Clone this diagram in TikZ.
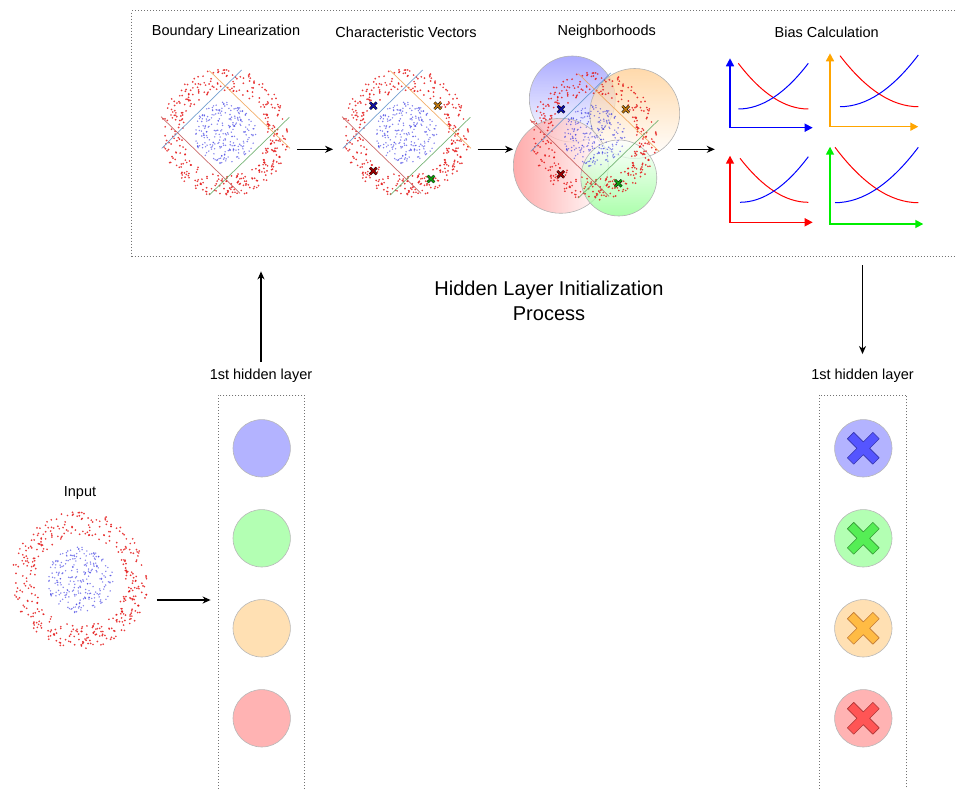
\documentclass[tikz,border=0pt]{standalone}
\usepackage{fontspec}
\setmainfont{Liberation Sans}
\usetikzlibrary{arrows.meta}

\definecolor{ptred}{HTML}{E41A1A}
\definecolor{ptblue}{HTML}{2F2FE0}
\definecolor{lnblue}{HTML}{5B8FC7}
\definecolor{lnorange}{HTML}{F0A050}
\definecolor{lnred}{HTML}{C05050}
\definecolor{lngreen}{HTML}{60A860}
\definecolor{nblue}{HTML}{B3B3FF}
\definecolor{ngreen}{HTML}{B3FFB3}
\definecolor{norange}{HTML}{FFE0B3}
\definecolor{nred}{HTML}{FFB3B3}
\definecolor{xblue}{HTML}{5555FF}
\definecolor{xgreen}{HTML}{55EE55}
\definecolor{xorange}{HTML}{FFBB44}
\definecolor{xred}{HTML}{FF5555}
\definecolor{mkblue}{HTML}{1010A8}
\definecolor{mkorange}{HTML}{C07A10}
\definecolor{mkred}{HTML}{A00000}
\definecolor{mkgreen}{HTML}{10A010}
\definecolor{axgreen}{HTML}{00EE00}
\definecolor{axorange}{HTML}{FFA500}

% two-class point cloud: red ring around a blue disk
\newcommand\dotcloud[2]{%
  \begin{scope}[shift={#1}]
    \pgfmathsetseed{4711}
    \foreach \k in {1,...,400}{%
      \pgfmathsetmacro\ang{360*rnd}%
      \pgfmathsetmacro\rad{#2*(42+22*rnd)}%
      \fill[ptred, opacity=0.85] (\ang:\rad pt) circle (0.95pt);
    }
    \foreach \k in {1,...,250}{%
      \pgfmathsetmacro\ang{360*rnd}%
      \pgfmathsetmacro\rad{#2*31*sqrt(rnd)}%
      \fill[ptblue, opacity=0.6] (\ang:\rad pt) circle (0.8pt);
    }
  \end{scope}}

% the four linear boundaries around a cloud
\newcommand\boundaries[1]{%
  \begin{scope}[shift={#1}, line width=0.7pt, opacity=0.85]
    \draw[lnblue]   (-63.3,15.3) -- (16.7,-63);
    \draw[lnorange] (-15.7,-62.3) -- (65,15.3);
    \draw[lnred]    (-64,-16.3) -- (15,60.3);
    \draw[lngreen]  (-15.7,62) -- (64.3,-15.7);
  \end{scope}}

% small outlined x marker
\newcommand\cvmark[2]{%
  \begin{scope}[shift={#1}]
    \draw[black, line width=2.6pt] (-3.3,-3.3) -- (3.3,3.3) (-3.3,3.3) -- (3.3,-3.3);
    \draw[#2, line width=1.5pt] (-3.3,-3.3) -- (3.3,3.3) (-3.3,3.3) -- (3.3,-3.3);
  \end{scope}}

% large cross placed inside a neuron
\newcommand\bigcross[3]{%
  \begin{scope}[shift={#1}, rotate=45]
    \filldraw[fill=#2, draw=#3, line width=0.6pt, line join=round]
      (4.5,4.5) -- (18,4.5) -- (18,-4.5) -- (4.5,-4.5) -- (4.5,-18) -- (-4.5,-18)
      -- (-4.5,-4.5) -- (-18,-4.5) -- (-18,4.5) -- (-4.5,4.5) -- (-4.5,18) -- (4.5,18) -- cycle;
  \end{scope}}

\begin{document}
\begin{tikzpicture}[x=1pt, y=-1pt,
  lbl/.style={font=\fontsize{14.5}{17}\selectfont, inner sep=0pt},
  arr/.style={-{Stealth[length=8pt, width=7pt, inset=2.5pt]}, line width=1.2pt},
  dotbox/.style={draw=black!55, line width=0.8pt, dash pattern=on 1pt off 2pt, inner sep=0pt},
  neuron/.style={circle, draw=black!28, line width=0.6pt, minimum size=57.4pt, inner sep=0pt},
  anchorbox/.style={inner sep=0pt, minimum height=0pt},
  axisline/.style={line width=1.6pt, line join=miter,
    {Triangle[length=8pt, width=8pt]}-{Triangle[length=8pt, width=8pt]}},
  curve/.style={line width=1pt}
]
\useasboundingbox (0,0) rectangle (955,789);

% ---------- process frame ----------
\node[dotbox, minimum width=825.5pt, minimum height=246pt] (proc) at (544.25,133.7) {};

\node[lbl] (t1) at (226,32) {Boundary Linearization};
\node[lbl] (t2) at (406,32) {Characteristic Vectors};
\node[lbl] (t3) at (606.7,32) {Neighborhoods};
\node[lbl] (t4) at (826.7,32) {Bias Calculation};

% panel anchors for the connecting arrows
\node[anchorbox, minimum width=144pt] (blp) at (225,149.3) {};
\node[anchorbox, minimum width=144pt] (cvp) at (405.3,149.3) {};
\node[anchorbox, minimum width=164pt] (nbp) at (595.3,149.3) {};
\node[anchorbox, minimum width=200pt] (bcp) at (815,149.3) {};

% boundary linearization
\dotcloud{(225,133)}{1}
\boundaries{(225,133)}

% characteristic vectors
\dotcloud{(406,133)}{1}
\boundaries{(406,133)}
\cvmark{(373.3,105.7)}{mkblue}
\cvmark{(437.7,105.7)}{mkorange}
\cvmark{(373.3,171)}{mkred}
\cvmark{(431,179)}{mkgreen}

% neighborhoods
\begin{scope}[shift={(594,136)}, line width=0.6pt]
  \shade[top color=nblue!80!blue, bottom color=white, fill opacity=0.75]
    (-21.7,-37) circle (43pt);
  \draw[black!30] (-21.7,-37) circle (43pt);
  \shade[top color=norange!80!orange, bottom color=white, fill opacity=0.75]
    (40.7,-22.5) circle (45pt);
  \draw[black!30] (40.7,-22.5) circle (45pt);
  \shade[left color=nred!80!red, right color=white, fill opacity=0.75]
    (-33.2,29.8) circle (47.5pt);
  \draw[black!30] (-33.2,29.8) circle (47.5pt);
  \shade[bottom color=ngreen!80!green, top color=white, fill opacity=0.75]
    (24.8,42) circle (38pt);
  \draw[black!30] (24.8,42) circle (38pt);
\end{scope}
\dotcloud{(594,136)}{1}
\boundaries{(594,136)}
\cvmark{(561,109.3)}{mkblue}
\cvmark{(625.7,109.3)}{mkorange}
\cvmark{(560.7,174.3)}{mkred}
\cvmark{(618.3,183.3)}{mkgreen}

% bias calculation plots: axes, decreasing (red) and increasing (blue) parabolas
\draw[axisline, blue] (730,58.3) -- (730,127.7) -- (812.7,127.7);
\draw[curve, red]  (738.3,63.3) .. controls (761.6,93.8) and (785,109) .. (808.3,109);
\draw[curve, blue] (738.3,109) .. controls (761.6,109) and (785,93.8) .. (808.3,63.3);

\draw[axisline, axorange] (830,53.3) -- (830,126.7) -- (918.3,126.7);
\draw[curve, red]  (840,55.7) .. controls (866.1,89.7) and (892.2,106.7) .. (918.3,106.7);
\draw[curve, blue] (840,106.7) .. controls (866.1,106.7) and (892.2,89.5) .. (918.3,55);

\draw[axisline, red] (730,155.7) -- (730,222.3) -- (812.7,222.3);
\draw[curve, red]  (740,158.3) .. controls (762.8,187.6) and (785.5,202.3) .. (808.3,202.3);
\draw[curve, blue] (740,202.3) .. controls (762.8,202.3) and (785.5,187.1) .. (808.3,156.7);

\draw[axisline, axgreen] (830,146.7) -- (830,224) -- (923.3,224);
\draw[curve, red]  (835,147.3) .. controls (862.8,184.2) and (890.5,202.7) .. (918.3,202.7);
\draw[curve, blue] (835,202.7) .. controls (862.8,202.7) and (890.5,184.2) .. (918.3,147.3);

% arrows between the stages
\draw[arr] (blp.east) -- (cvp.west);
\draw[arr] (cvp.east) -- (nbp.west);
\draw[arr] (nbp.east) -- (bcp.west);

% ---------- title ----------
\node[font=\fontsize{20}{25}\selectfont, align=center, inner sep=0pt] (ttl) at (549,300.5)
  {Hidden Layer Initialization\\Process};

% ---------- input ----------
\node[lbl] (inlbl) at (80,492.7) {Input};
\dotcloud{(80,580)}{1.07}
\node[anchorbox, minimum width=153.4pt] (inp) at (80,600) {};

% ---------- hidden layer before initialization ----------
\node[lbl] (hl1) at (261,376) {1st hidden layer};
\node[dotbox, minimum width=86pt, minimum height=410pt] (lay1) at (261.3,600) {};
\node[neuron, fill=nblue]   (a1) at (261.7,448.3) {};
\node[neuron, fill=ngreen]  (a2) at (261.7,538.3) {};
\node[neuron, fill=norange] (a3) at (261.7,628.3) {};
\node[neuron, fill=nred]    (a4) at (261.7,718.3) {};

% ---------- hidden layer after initialization ----------
\node[lbl] (hl2) at (862.5,376) {1st hidden layer};
\node[dotbox, minimum width=87.4pt, minimum height=410pt] (lay2) at (863,600) {};
\node[neuron, fill=nblue]   (b1) at (863.3,448.3) {};
\node[neuron, fill=ngreen]  (b2) at (863.3,538.3) {};
\node[neuron, fill=norange] (b3) at (863.3,628.3) {};
\node[neuron, fill=nred]    (b4) at (863.3,718.3) {};
\bigcross{(b1.center)}{xblue}{blue!60!black!80}
\bigcross{(b2.center)}{xgreen}{green!50!black!80}
\bigcross{(b3.center)}{xorange}{orange!70!black!80}
\bigcross{(b4.center)}{xred}{red!60!black!80}

% ---------- flow arrows ----------
\draw[arr, shorten >=7.3pt] (inp.east) -- (inp.east -| lay1.west);
\draw[arr, shorten <=7pt, shorten >=14.3pt] (hl1.north) -- (hl1.north |- proc.south);
\draw[arr, shorten <=8.3pt, shorten >=15pt] (proc.south -| hl2.north) -- (hl2.north);
\end{tikzpicture}
\end{document}
